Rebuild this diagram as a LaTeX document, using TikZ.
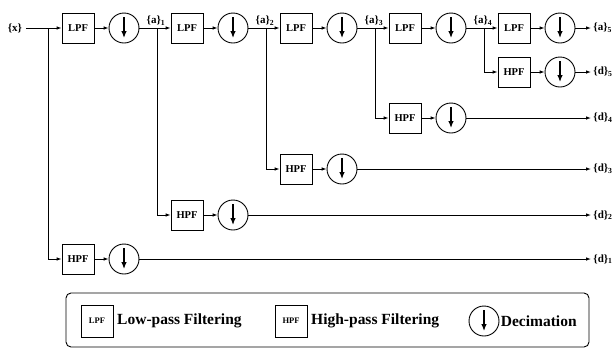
\documentclass[tikz,border=0pt]{standalone}
\usepackage{fontspec}
\setmainfont{Liberation Serif}
\usetikzlibrary{arrows.meta}
\tikzset{
  dwt/.style={x=1pt,y=-1pt,line width=0.9pt,font=\fontsize{11}{13}\selectfont\bfseries,
    >={Latex[length=5pt,width=3.6pt]}},
  filt/.style={draw,minimum width=32pt,minimum height=30pt,inner sep=0pt,
    font=\fontsize{10.5}{12}\selectfont\bfseries},
  dec/.style={draw,circle,minimum size=30pt,inner sep=0pt,
    path picture={\draw[line width=1.2pt,-{Latex[length=7pt,width=5.5pt]}]
      ([yshift=-4pt]path picture bounding box.north) -- ([yshift=5pt]path picture bounding box.south);}},
  outlbl/.style={anchor=west,inner sep=2pt},
  legtxt/.style={anchor=west,font=\fontsize{15.5}{18}\selectfont\bfseries},
}

\begin{document}
\begin{tikzpicture}[dwt]
    \useasboundingbox (0,0) rectangle (614,349);
    \node (x) at (15,28) {\{x\}};
    % low-pass chain
    \foreach \j/\xl in {1/78,2/187,3/296,4/405,5/514} {
      \coordinate (b\j) at (\xl-30,28);
      \node[filt] (lpf\j) at (\xl,28) {LPF};
      \node[dec]  (dl\j)  at (\xl+46,28) {};
      \draw[->] (b\j) -- (lpf\j);
      \draw[->] (lpf\j) -- (dl\j);
    }
    \draw (x) -- (b1);
    \foreach \j/\k in {1/2,2/3,3/4,4/5} {
      \draw (dl\j) -- (b\k);
      \node[anchor=south,inner sep=2pt] (a\j) at ([xshift=-1pt]b\k) {\{a\}\textsubscript{\j}};
    }
    \node[outlbl] (a5) at (591,28) {\{a\}\textsubscript{5}};
    \draw[->] (dl5) -- (a5);
    % high-pass branches
    \foreach \j/\xl/\y in {1/78/259,2/187/215,3/296/169,4/405/118,5/514/72} {
      \node[filt] (hpf\j) at (\xl,\y) {HPF};
      \node[dec]  (dh\j)  at (\xl+46,\y) {};
      \node[outlbl] (d\j) at (591,\y) {\{d\}\textsubscript{\j}};
      \draw[->] (b\j) |- (hpf\j);
      \draw[->] (hpf\j) -- (dh\j);
      \draw[->] (dh\j) -- (d\j);
    }
    % legend
    \node[draw,rounded corners=5pt,minimum width=523pt,minimum height=54pt] (legend) at (327.5,320) {};
    \node[filt,minimum height=32pt,font=\fontsize{8.5}{10}\selectfont\bfseries] (klpf) at (97,321) {LPF};
    \node[legtxt] (tlpf) at (klpf.east) {Low-pass Filtering};
    \node[filt,minimum height=32pt,font=\fontsize{8.5}{10}\selectfont\bfseries] (khpf) at (291,321) {HPF};
    \node[legtxt] (thpf) at (khpf.east) {High-pass Filtering};
    \node[dec] (kdec) at (484,321) {};
    \node[legtxt,inner sep=1pt] (tdec) at (kdec.east) {Decimation};
\end{tikzpicture}
\end{document}
